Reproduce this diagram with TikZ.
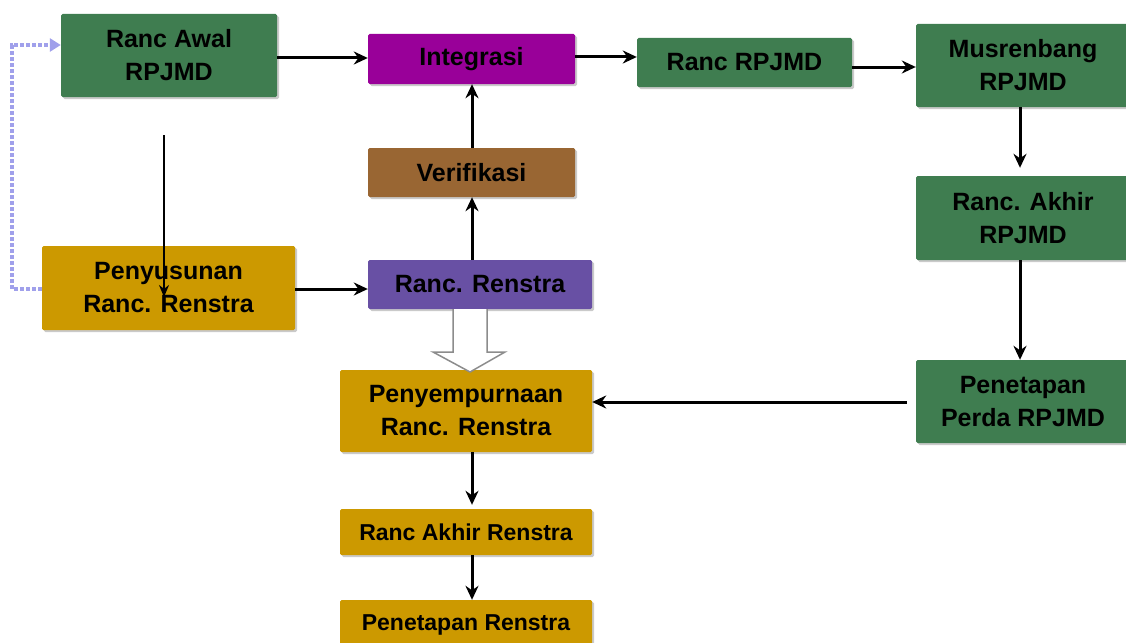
\documentclass[tikz,border=0pt]{standalone}
\usepackage{fontspec}
\setmainfont{Liberation Sans}
\usetikzlibrary{arrows.meta,shadows}

\definecolor{boxgreen}{RGB}{63,125,80}
\definecolor{boxmagenta}{RGB}{153,0,153}
\definecolor{boxbrown}{RGB}{153,102,51}
\definecolor{boxgold}{RGB}{204,153,0}
\definecolor{boxpurple}{RGB}{104,80,164}
\definecolor{lavender}{RGB}{160,160,235}

\tikzset{
  flowbox/.style={draw=none, rounded corners=1.5pt, align=center, inner sep=0pt,
    font=\fontsize{25}{33}\selectfont\bfseries,
    drop shadow={shadow xshift=2pt, shadow yshift=-2pt, opacity=.35, fill=black!60}},
  arr/.style={line width=3pt, -{Stealth[length=14pt,width=13pt]}},
  thinarr/.style={line width=2pt, -{Stealth[length=12pt,width=10pt]}}
}

\begin{document}
\begin{tikzpicture}[x=1pt,y=-1pt]
	\useasboundingbox (0,0) rectangle (1126,642);
	
	% Boxes
	\node[flowbox, fill=boxgreen, minimum width=216pt, minimum height=83pt] (awal) at (169,55.5) {Ranc Awal\\RPJMD};
	\node[flowbox, fill=boxmagenta, minimum width=207pt, minimum height=50pt] (integ) at (471.5,59) {Integrasi};
	\node[flowbox, fill=boxgreen, minimum width=215pt, minimum height=49pt] (rrpjmd) at (744.5,62.5) {Ranc RPJMD};
	\node[flowbox, fill=boxgreen, minimum width=214pt, minimum height=83pt] (musren) at (1023,65.5) {Musrenbang\\RPJMD};
	\node[flowbox, fill=boxbrown, minimum width=207pt, minimum height=49pt] (verif) at (471.5,172.5) {Verifikasi};
	\node[flowbox, fill=boxgreen, minimum width=214pt, minimum height=84pt] (rakhir) at (1023,218) {Ranc. Akhir\\RPJMD};
	\node[flowbox, fill=boxgold, minimum width=253pt, minimum height=84pt] (penyus) at (168.5,288) {Penyusunan\\Ranc. Renstra};
	\node[flowbox, fill=boxpurple, minimum width=224pt, minimum height=49pt] (rrenstra) at (480,284.5) {Ranc. Renstra};
	\node[flowbox, fill=boxgold, minimum width=252pt, minimum height=82pt] (penyemp) at (466,411) {Penyempurnaan\\Ranc. Renstra};
	\node[flowbox, fill=boxgreen, minimum width=214pt, minimum height=83pt] (perda) at (1023,401.5) {Penetapan\\Perda RPJMD};
	\node[flowbox, fill=boxgold, minimum width=252pt, minimum height=46pt, font=\fontsize{23}{30}\selectfont\bfseries] (rarenstra) at (466,532) {Ranc Akhir Renstra};
	\node[flowbox, fill=boxgold, minimum width=252pt, minimum height=50pt, font=\fontsize{23}{30}\selectfont\bfseries] (petrenstra) at (466,625) {Penetapan Renstra};
	
	% Connectors
	\draw[arr] (awal.east |- 0,58) -- (integ.west |- 0,58);
	\draw[arr] (integ.east |- 0,57) -- (rrpjmd.west |- 0,57);
	\draw[arr] (rrpjmd.east |- 0,67) -- (musren.west |- 0,67);
	\draw[arr] (musren.south -| 1020,0) -- ([yshift=8pt]rakhir.north -| 1020,0);
	\draw[arr] (rakhir.south -| 1020,0) -- (perda.north -| 1020,0);
	\draw[arr] ([xshift=-9pt]perda.west |- 0,402) -- (penyemp.east |- 0,402);
	\draw[arr] (penyemp.south -| 472,0) -- ([yshift=4pt]rarenstra.north -| 472,0);
	\draw[arr] (rarenstra.south -| 472,0) -- (petrenstra.north -| 472,0);
	\draw[arr] (rrenstra.north -| 472,0) -- (verif.south -| 472,0);
	\draw[arr] (verif.north -| 472,0) -- (integ.south -| 472,0);
	\draw[arr] (penyus.east |- 0,289) -- (rrenstra.west |- 0,289);
	
	% thin line from Ranc Awal into Penyusunan
	\coordinate (awalfoot) at (164,135);
	\coordinate (penyustip) at (164,297);
	\draw[thinarr] (awalfoot) -- (penyustip);
	
	% dashed return line
	\draw[lavender, line width=4pt, dash pattern=on 4pt off 2pt, -{Triangle[length=11pt,width=13pt]}]
	  (penyus.west |- 0,289) -- (12,289) -- (12,45) -- (awal.west |- 0,45);
	
	% hollow arrow
	\coordinate (hollowtop) at (470,309);
	\draw[black!45, line width=1.5pt, fill=white, line join=miter]
	  (hollowtop) ++(-17,0) -- ++(0,43) -- ++(-20,0) -- ++(37,20)
	  -- ++(35,-20) -- ++(-18,0) -- ++(0,-43);
	
\end{tikzpicture}
\end{document}
